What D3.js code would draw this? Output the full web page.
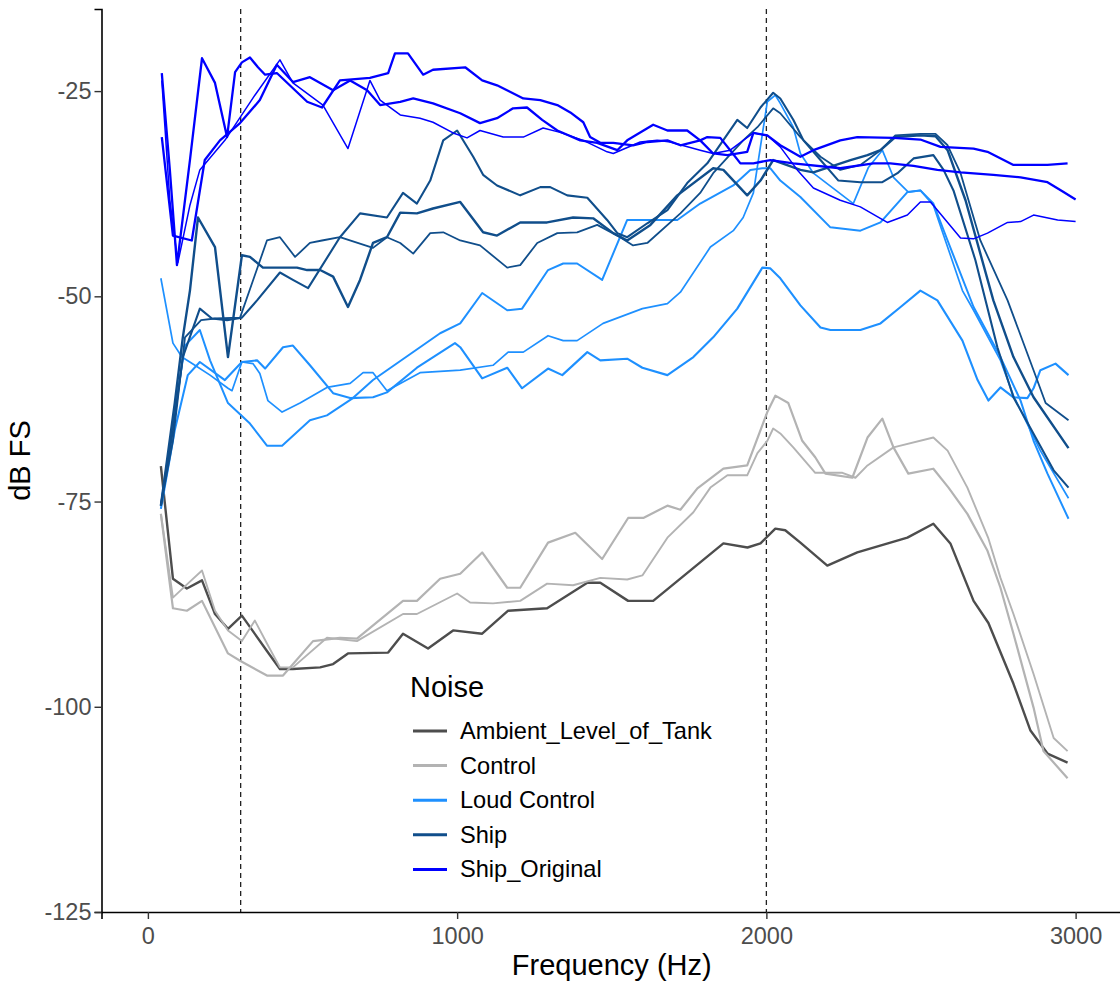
<!DOCTYPE html>
<html>
<head>
<meta charset="utf-8">
<script src="https://cdnjs.cloudflare.com/ajax/libs/d3/7.8.5/d3.min.js"></script>
<style>
body { margin: 0; background: #fff; }
svg { font-family: "Liberation Sans", Arial, sans-serif; }
</style>
</head>
<body>
<script>
// groups in the legend, and their colours
var categories = ["Ambient_Level_of_Tank", "Control", "Loud Control", "Ship", "Ship_Original"];
var colors = ["#4d4d4d", "#b3b3b3", "#1e90ff", "#104e8b", "#0000ff"];
var xTicks = [0, 1000, 2000, 3000];
var yTicks = [-125, -100, -75, -50, -25];
var markers = [300, 2000];

// [Hz, dB FS]
var ambient = [[42,-70.7],[81,-84.4],[126,-85.6],[175,-84.6],[217,-88.7],[259,-90.5],[304,-88.9],[385,-93.2],[427,-95.4],[469,-95.4],[557,-95.2],[599,-94.8],[647,-93.5],[777,-93.4],[825,-91.1],[906,-92.9],[987,-90.7],[1081,-91.1],[1165,-88.3],[1291,-88.0],[1421,-84.9],[1463,-84.9],[1553,-87.1],[1634,-87.1],[1861,-80.1],[1939,-80.6],[1981,-80.1],[2029,-78.3],[2061,-78.5],[2110,-80.0],[2197,-82.8],[2294,-81.2],[2456,-79.4],[2540,-77.7],[2595,-80.1],[2670,-87.1],[2718,-89.8],[2799,-97.2],[2854,-102.9],[2909,-105.7],[2974,-106.8]];

var controlA = [[42,-76.5],[81,-88.0],[126,-88.3],[175,-87.1],[259,-93.5],[298,-94.4],[385,-96.2],[437,-96.2],[534,-92.0],[621,-91.6],[676,-91.7],[825,-87.1],[870,-87.1],[945,-84.4],[1010,-83.8],[1081,-81.2],[1162,-85.5],[1204,-85.5],[1294,-80.0],[1382,-78.8],[1469,-82.0],[1553,-77.0],[1602,-77.0],[1680,-75.5],[1722,-76.0],[1777,-73.4],[1861,-71.0],[1938,-70.6],[2003,-64.1],[2029,-62.1],[2071,-63.0],[2116,-67.6],[2158,-69.6],[2191,-71.6],[2278,-72.1],[2327,-67.2],[2375,-64.9],[2411,-68.4],[2459,-71.6],[2540,-71.0],[2589,-73.3],[2650,-76.5],[2715,-81.0],[2757,-85.5],[2799,-91.1],[2864,-100.1],[2896,-105.4],[2974,-108.7]];
var controlB = [[42,-76.5],[81,-86.7],[129,-85.0],[175,-83.4],[217,-88.3],[259,-90.7],[304,-92.0],[346,-89.5],[385,-92.3],[427,-95.2],[469,-95.2],[579,-91.6],[676,-92.0],[825,-88.7],[870,-88.7],[1000,-86.2],[1042,-87.3],[1116,-87.4],[1204,-87.1],[1291,-85.0],[1375,-85.2],[1463,-84.3],[1550,-84.5],[1599,-84.0],[1680,-79.4],[1764,-76.3],[1819,-73.3],[1874,-71.8],[1938,-71.8],[1971,-69.1],[2003,-67.6],[2022,-66.1],[2045,-66.7],[2087,-68.4],[2158,-71.5],[2246,-71.5],[2288,-72.1],[2327,-70.6],[2411,-68.4],[2540,-67.2],[2586,-68.8],[2650,-73.3],[2718,-79.5],[2757,-84.3],[2799,-88.7],[2864,-96.0],[2929,-103.8],[2974,-105.4]];

var loud1 = [[42,-75.9],[87,-66.3],[129,-59.6],[168,-58.0],[249,-60.2],[304,-58.0],[353,-57.8],[379,-58.8],[437,-56.2],[469,-56.0],[524,-58.4],[599,-61.8],[654,-62.4],[728,-62.3],[773,-61.7],[870,-58.7],[993,-55.7],[1010,-56.2],[1081,-60.0],[1162,-58.7],[1210,-61.2],[1294,-58.8],[1340,-59.6],[1421,-56.8],[1463,-57.8],[1550,-57.6],[1599,-58.7],[1680,-59.6],[1764,-57.4],[1828,-55.0],[1906,-51.5],[1987,-46.5],[2013,-46.6],[2045,-47.8],[2110,-51.1],[2175,-53.8],[2207,-54.1],[2304,-54.1],[2369,-53.3],[2434,-51.3],[2498,-49.3],[2553,-50.5],[2634,-55.4],[2683,-60.2],[2718,-62.7],[2757,-61.1],[2799,-62.3],[2844,-62.4],[2864,-61.2],[2886,-59.0],[2935,-58.2],[2977,-59.6]];
var loud2 = [[42,-75.5],[87,-64.0],[120,-56.0],[168,-54.1],[201,-57.8],[259,-63.0],[330,-65.5],[385,-68.2],[434,-68.2],[524,-65.1],[579,-64.5],[663,-62.4],[728,-60.2],[945,-54.5],[1010,-53.3],[1081,-49.6],[1162,-51.7],[1210,-51.5],[1294,-46.8],[1343,-46.0],[1388,-46.0],[1469,-48.0],[1550,-40.7],[1712,-40.7],[1786,-38.7],[1893,-36.5],[1948,-34.6],[1987,-34.4],[2013,-34.4],[2045,-35.9],[2110,-37.9],[2207,-41.6],[2304,-42.0],[2369,-41.0],[2456,-37.3],[2498,-37.1],[2540,-38.7],[2586,-43.2],[2670,-51.3],[2757,-57.4],[2822,-62.7],[2864,-67.6],[2909,-71.6],[2977,-77.1]];
var loud3 = [[42,-47.8],[81,-55.7],[110,-57.4],[152,-58.4],[201,-59.6],[259,-61.2],[272,-61.5],[304,-58.0],[340,-58.2],[362,-59.4],[388,-62.7],[434,-64.1],[492,-63.0],[579,-61.1],[654,-60.6],[696,-59.3],[728,-59.3],[773,-61.5],[880,-59.3],[1010,-59.0],[1116,-58.4],[1165,-56.8],[1214,-56.8],[1294,-54.8],[1343,-55.4],[1388,-55.4],[1472,-53.3],[1599,-51.5],[1680,-50.9],[1722,-49.5],[1819,-44.0],[1893,-42.0],[1925,-40.4],[1958,-37.4],[2003,-26.3],[2029,-25.5],[2045,-26.5],[2087,-29.4],[2110,-32.6],[2152,-35.0],[2281,-38.7],[2330,-34.3],[2375,-32.2],[2411,-35.5],[2459,-37.3],[2498,-37.1],[2540,-38.9],[2634,-49.3],[2670,-51.7],[2757,-57.8],[2799,-62.1],[2886,-68.8],[2977,-74.6]];

var ship1 = [[42,-75.5],[81,-66.3],[113,-57.4],[168,-51.5],[207,-52.7],[256,-52.9],[304,-52.6],[353,-50.5],[427,-47.1],[469,-48.0],[518,-49.0],[621,-42.8],[686,-39.9],[773,-40.4],[825,-37.4],[870,-38.7],[913,-35.9],[955,-31.0],[1000,-29.8],[1052,-33.0],[1084,-35.2],[1129,-36.5],[1204,-37.7],[1269,-36.7],[1301,-36.7],[1356,-37.7],[1421,-38.0],[1485,-40.7],[1518,-42.3],[1550,-42.8],[1615,-41.1],[1680,-39.5],[1744,-36.2],[1809,-33.8],[1906,-28.5],[1938,-29.5],[1981,-27.0],[2022,-25.2],[2045,-25.9],[2087,-28.5],[2120,-31.0],[2175,-33.4],[2233,-35.9],[2304,-36.1],[2375,-36.1],[2424,-35.0],[2476,-33.2],[2540,-32.8],[2573,-34.6],[2605,-37.1],[2676,-45.6],[2747,-56.2],[2799,-62.3],[2929,-71.2],[2977,-73.3]];
var ship2 = [[42,-75.5],[87,-63.0],[113,-55.0],[136,-49.3],[162,-40.4],[217,-44.0],[259,-57.4],[304,-45.0],[330,-45.2],[372,-46.5],[482,-46.5],[515,-46.8],[557,-46.8],[599,-47.6],[647,-51.3],[686,-48.0],[728,-43.5],[773,-42.8],[816,-39.8],[870,-39.9],[922,-39.3],[1010,-38.5],[1084,-42.2],[1129,-42.6],[1204,-41.0],[1291,-41.0],[1375,-40.4],[1440,-40.5],[1505,-42.3],[1550,-43.2],[1625,-41.3],[1712,-37.7],[1828,-34.4],[1861,-34.6],[1938,-37.7],[1981,-35.9],[2022,-33.4],[2110,-34.6],[2152,-34.9],[2272,-33.4],[2327,-32.8],[2369,-32.2],[2417,-30.6],[2498,-30.4],[2547,-30.5],[2586,-32.2],[2644,-38.3],[2734,-50.5],[2799,-57.4],[2864,-62.3],[2977,-68.5]];
var ship3 = [[42,-75.5],[81,-67.6],[120,-55.0],[172,-52.9],[217,-52.7],[298,-52.6],[385,-43.2],[427,-42.8],[476,-45.2],[524,-43.5],[563,-43.2],[621,-42.8],[728,-44.1],[773,-42.8],[816,-43.5],[858,-44.8],[913,-42.3],[955,-42.2],[1010,-43.2],[1074,-43.8],[1162,-46.5],[1204,-46.2],[1259,-43.5],[1324,-42.3],[1388,-42.2],[1453,-41.3],[1527,-42.8],[1569,-43.8],[1615,-43.5],[1722,-39.9],[1786,-37.4],[1828,-35.0],[1925,-31.0],[1971,-29.4],[2022,-27.1],[2045,-27.7],[2110,-30.6],[2175,-33.0],[2239,-34.6],[2304,-34.0],[2369,-32.2],[2417,-30.4],[2498,-30.2],[2547,-30.2],[2586,-31.6],[2628,-35.0],[2692,-43.2],[2780,-50.5],[2864,-59.0],[2903,-63.0],[2977,-65.1]];

var orig1 = [[45,-22.8],[71,-34.6],[94,-46.2],[136,-33.4],[175,-21.0],[217,-24.0],[256,-30.6],[282,-22.7],[304,-21.5],[330,-20.9],[356,-22.1],[379,-23.0],[417,-22.8],[515,-26.3],[563,-27.0],[621,-23.7],[718,-23.4],[777,-22.8],[799,-20.4],[841,-20.4],[890,-23.0],[922,-22.4],[1026,-22.1],[1081,-23.7],[1129,-24.3],[1214,-25.9],[1269,-26.1],[1324,-26.7],[1366,-27.6],[1408,-28.8],[1430,-30.6],[1463,-31.3],[1505,-31.3],[1569,-31.6],[1615,-31.2],[1680,-31.0],[1722,-31.6],[1786,-31.0],[1809,-30.6],[1851,-30.7],[1883,-32.2],[1916,-33.8],[1958,-33.8],[2013,-33.4],[2087,-33.8],[2239,-34.4],[2346,-33.8],[2401,-33.8],[2476,-34.1],[2553,-34.6],[2628,-34.9],[2734,-35.2],[2822,-35.5],[2909,-36.1],[2961,-37.3],[3000,-38.2]];
var orig2 = [[45,-30.6],[81,-42.6],[142,-43.2],[184,-33.4],[233,-31.0],[298,-28.9],[362,-26.1],[417,-21.8],[469,-23.9],[524,-23.3],[599,-24.9],[654,-23.7],[709,-24.9],[751,-26.7],[816,-26.3],[858,-25.9],[922,-26.5],[1010,-27.7],[1074,-28.9],[1129,-28.3],[1181,-27.1],[1226,-27.0],[1275,-28.5],[1324,-29.8],[1398,-31.0],[1453,-31.3],[1518,-32.2],[1550,-31.0],[1634,-29.1],[1680,-29.8],[1744,-29.8],[1786,-31.0],[1828,-32.6],[1874,-32.8],[1938,-32.4],[1958,-30.1],[2003,-30.4],[2045,-31.6],[2110,-33.0],[2152,-32.2],[2239,-31.0],[2294,-30.6],[2411,-30.7],[2498,-30.9],[2563,-31.8],[2670,-32.0],[2715,-32.4],[2799,-34.0],[2909,-34.0],[2974,-33.8]];
var orig3 = [[45,-23.7],[71,-38.3],[97,-45.9],[136,-38.9],[168,-34.6],[249,-31.0],[346,-25.5],[427,-21.2],[469,-24.0],[566,-26.7],[647,-32.0],[718,-23.7],[751,-26.1],[816,-27.9],[880,-28.3],[922,-28.8],[987,-30.1],[1032,-30.7],[1074,-29.8],[1149,-30.6],[1214,-30.6],[1278,-29.5],[1330,-30.0],[1408,-31.0],[1485,-32.4],[1505,-32.6],[1592,-31.2],[1647,-31.0],[1689,-31.2],[1786,-32.2],[1828,-32.6],[1883,-32.2],[1958,-30.1],[2003,-30.4],[2045,-31.8],[2100,-34.6],[2152,-36.8],[2239,-38.3],[2304,-39.1],[2391,-41.0],[2456,-40.1],[2498,-38.5],[2531,-38.5],[2628,-42.9],[2670,-43.0],[2715,-42.3],[2780,-41.0],[2822,-40.9],[2864,-40.1],[2942,-40.7],[3000,-40.9]];

var series = [
    { group: "Ambient_Level_of_Tank", values: ambient, w: 2.4 },
    { group: "Control", values: controlA, w: 2.2 },
    { group: "Control", values: controlB, w: 1.9 },
    { group: "Loud Control", values: loud1, w: 2.1 },
    { group: "Loud Control", values: loud2, w: 2.0 },
    { group: "Loud Control", values: loud3, w: 1.7 },
    { group: "Ship", values: ship1, w: 2.1 },
    { group: "Ship", values: ship2, w: 2.4 },
    { group: "Ship", values: ship3, w: 1.8 },
    { group: "Ship_Original", values: orig1, w: 2.3 },
    { group: "Ship_Original", values: orig2, w: 2.3 },
    { group: "Ship_Original", values: orig3, w: 1.5 }
];

var width = 1120, height = 981;
var svg = d3.select("body").append("svg").attr("width", width).attr("height", height);

var x = d3.scaleLinear().domain([-150, 3150]).range([101.5, 1122]);
var y = d3.scaleLinear().domain([-125, -15]).range([912, 9]);
var color = d3.scaleOrdinal().domain(categories).range(colors);

// dashed reference lines
svg.selectAll("line.marker")
    .data(markers)
    .enter()
    .append("line")
    .attr("class", "marker")
    .attr("x1", function(d) { return x(d); })
    .attr("x2", function(d) { return x(d); })
    .attr("y1", y.range()[1])
    .attr("y2", y.range()[0])
    .attr("stroke", "#222")
    .attr("stroke-width", 1.3)
    .attr("stroke-dasharray", "5,4");

var line = d3.line()
    .x(function(d) { return x(d[0]); })
    .y(function(d) { return y(d[1]); });

svg.selectAll("path.spec")
    .data(series)
    .enter()
    .append("path")
    .attr("class", "spec")
    .attr("d", function(d) { return line(d.values); })
    .attr("fill", "none")
    .attr("stroke", function(d) { return color(d.group); })
    .attr("stroke-width", function(d) { return d.w; })
    .attr("stroke-linejoin", "round");

// axes, plain hyphen minus and no thousands comma as in the original
var plain = function(d) { return String(d); };
var xAxis = svg.append("g")
    .attr("transform", "translate(0," + y.range()[0] + ")")
    .call(d3.axisBottom(x).tickValues(xTicks).tickFormat(plain).tickSize(7).tickPadding(5));
var yAxis = svg.append("g")
    .attr("transform", "translate(" + x.range()[0] + ",0)")
    .call(d3.axisLeft(y).tickValues(yTicks).tickFormat(plain).tickSize(7).tickPadding(3));

[xAxis, yAxis].forEach(function(g) {
    g.select(".domain").attr("stroke", "#000").attr("stroke-width", 1.6);
    g.selectAll(".tick line").attr("stroke", "#333").attr("stroke-width", 1.4);
    g.selectAll(".tick text")
        .attr("fill", "#4d4d4d")
        .style("font-size", "23.5px")
        .style("font-family", "'Liberation Sans', Arial, sans-serif");
});
xAxis.selectAll(".tick text").attr("dy", "0.85em");

svg.append("text")
    .attr("x", x(1500))
    .attr("y", 975)
    .attr("text-anchor", "middle")
    .style("font-size", "29px")
    .text("Frequency (Hz)");

svg.append("text")
    .attr("transform", "translate(30," + y(-70) + ") rotate(-90)")
    .attr("text-anchor", "middle")
    .style("font-size", "29px")
    .text("dB FS");

// legend
var legend = svg.append("g").attr("transform", "translate(410,0)");
legend.append("text")
    .attr("x", 0)
    .attr("y", 697)
    .style("font-size", "29px")
    .text("Noise");

var items = legend.selectAll("g.item")
    .data(categories)
    .enter()
    .append("g")
    .attr("class", "item")
    .attr("transform", function(d, i) { return "translate(0," + (731 + i * 34.6) + ")"; });

items.append("line")
    .attr("x1", 3)
    .attr("x2", 37)
    .attr("y1", 0)
    .attr("y2", 0)
    .attr("stroke", function(d) { return color(d); })
    .attr("stroke-width", 3);

items.append("text")
    .attr("x", 50)
    .attr("y", 8)
    .style("font-size", "23.6px")
    .text(function(d) { return d; });
</script>
</body>
</html>
